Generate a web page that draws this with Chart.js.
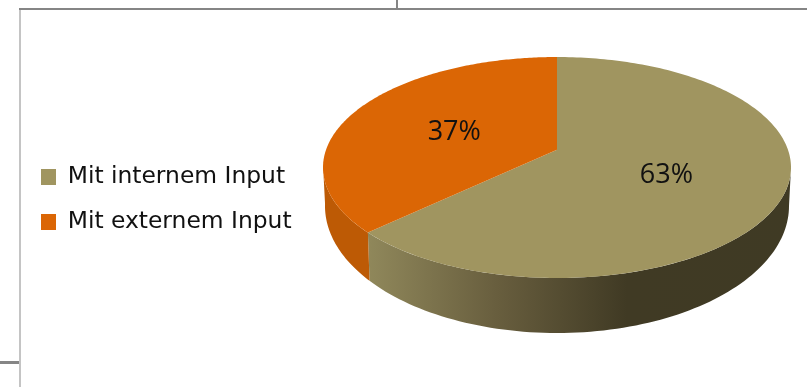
<!DOCTYPE html>
<html>
<head>
<meta charset="utf-8">
<script src="https://cdn.jsdelivr.net/npm/chart.js@4"></script>
<style>
  html, body { margin: 0; padding: 0; background: #fff; overflow: hidden; }
  #wrap { position: relative; width: 807px; height: 387px; }
  canvas { position: absolute; left: 0; top: 0; filter: blur(0.4px); }
  .rule { position: absolute; background: #858585; }
</style>
</head>
<body>
<div id="wrap">
  <canvas id="chart" width="807" height="387"></canvas>
  <div class="rule" style="left:19px;top:8px;width:788px;height:2px"></div>
  <div class="rule" style="left:396px;top:0;width:2px;height:8px"></div>
  <div class="rule" style="left:0;top:361px;width:19px;height:3px"></div>
  <div class="rule" style="left:19px;top:10px;width:2px;height:377px;background:#c4c4c4"></div>
</div>
<script>
const categories = ["Mit internem Input", "Mit externem Input"];
const values = [63, 37];
const colors = ["#a09560", "#db6605"];

// pie outline on the page, the doughnut controller fits its radius to this
const area = { left: 323, right: 791, top: 57, bottom: 278 };
const lower = { cy: 206, rx: 232, ry: 127 };
const tilt = -0.16; // moves the apex towards the back, like the perspective in the picture

// unit circle point -> tilted disc point
function project(angle, f) {
  const x = Math.cos(angle) * f, y = Math.sin(angle) * f;
  const d = 1 + tilt * y;
  return { x: x * Math.sqrt(1 - tilt * tilt) / d, y: (y + tilt) / d };
}

const pie3d = {
  id: "pie3d",
  afterLayout(chart) {
    chart.chartArea = { ...area, width: area.right - area.left, height: area.bottom - area.top };
    const legend = chart.legend;
    legend.left = 19.4;
    legend.right = 310;
    legend.top = 143.7;
    legend.bottom = 260;
  },
  beforeDatasetDraw(chart) {
    const ctx = chart.ctx;
    const arcs = chart.getDatasetMeta(0).data;
    const r = arcs[0].outerRadius, cx = arcs[0].x, cy = arcs[0].y;
    const rx = r * (area.right - area.left) / (area.bottom - area.top);
    const top = (p) => ({ x: cx + p.x * rx, y: cy + p.y * r });
    const bottom = (p) => ({ x: cx + p.x * lower.rx, y: lower.cy + p.y * lower.ry });

    const wall = ctx.createLinearGradient(367, 0, 800, 0);
    wall.addColorStop(0, "#90885b");
    wall.addColorStop(0.3, "#685e3e");
    wall.addColorStop(0.6, "#403a24");
    wall.addColorStop(1, "#3f3a24");
    const wallFill = [wall, "#bd5a05"];

    // side walls first, only the part of the rim that faces the viewer
    arcs.forEach((arc, i) => {
      const rim = [];
      for (let k = 0; k <= 160; k++) {
        const p = project(arc.startAngle + (arc.endAngle - arc.startAngle) * k / 160, 1);
        if (p.y >= -0.02) rim.push(p);
      }
      if (!rim.length) return;
      ctx.beginPath();
      rim.forEach((p, k) => {
        const q = top(p);
        k ? ctx.lineTo(q.x, q.y) : ctx.moveTo(q.x, q.y);
      });
      rim.slice().reverse().forEach((p) => {
        const q = bottom(p);
        ctx.lineTo(q.x, q.y);
      });
      ctx.closePath();
      ctx.fillStyle = wallFill[i];
      ctx.fill();
    });

    // top face
    arcs.forEach((arc, i) => {
      const apex = top(project(0, 0));
      ctx.beginPath();
      ctx.moveTo(apex.x, apex.y);
      for (let k = 0; k <= 200; k++) {
        const q = top(project(arc.startAngle + (arc.endAngle - arc.startAngle) * k / 200, 1));
        ctx.lineTo(q.x, q.y);
      }
      ctx.closePath();
      ctx.fillStyle = colors[i];
      ctx.fill();
    });

    // percent labels
    ctx.font = "27px 'Open Sans'";
    ctx.fillStyle = "#111";
    ctx.textAlign = "center";
    ctx.textBaseline = "middle";
    arcs.forEach((arc, i) => {
      const q = top(project((arc.startAngle + arc.endAngle) / 2, 0.5));
      ctx.fillText(values[i] + "%", q.x, q.y + 3);
    });
    return false;
  }
};

new Chart(document.getElementById("chart"), {
  type: "pie",
  data: {
    labels: categories,
    datasets: [{ data: values, backgroundColor: colors, borderWidth: 0 }]
  },
  options: {
    responsive: false,
    animation: false,
    plugins: {
      tooltip: { enabled: false },
      legend: {
        position: "left",
        align: "start",
        labels: {
          boxWidth: 15,
          boxHeight: 16,
          padding: 21.6,
          color: "#111",
          font: { family: "'DejaVu Sans'", size: 23.4 }
        }
      }
    }
  },
  plugins: [pie3d]
});
</script>
</body>
</html>
